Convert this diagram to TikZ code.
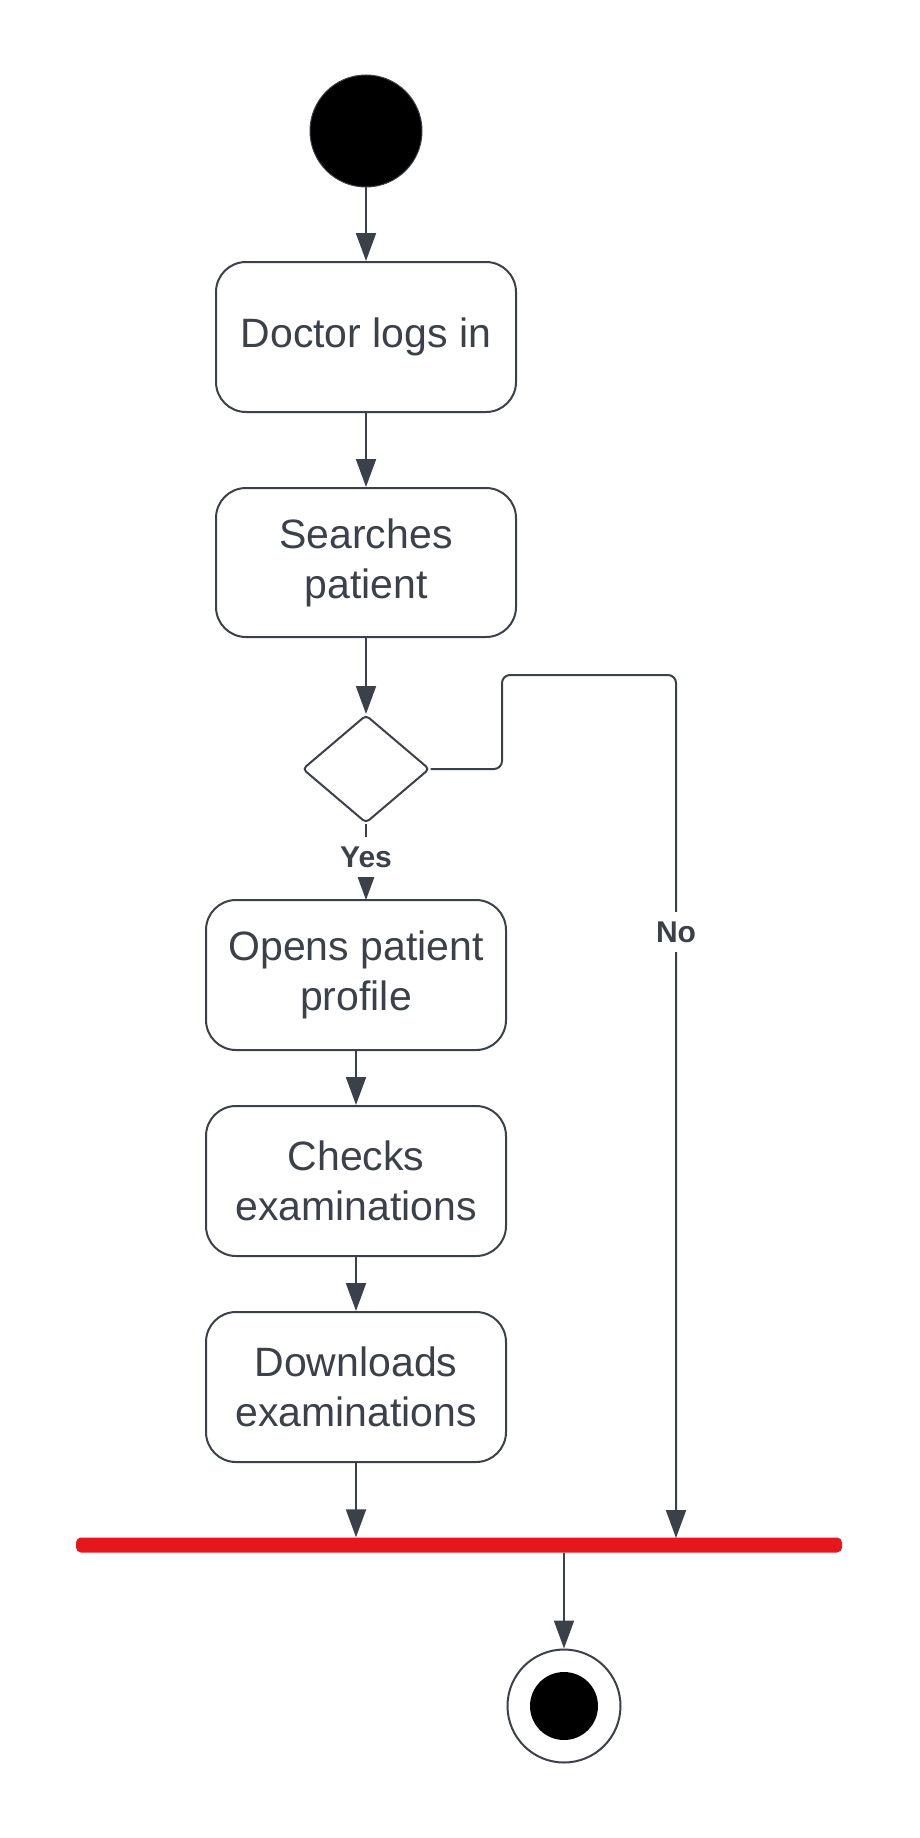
\documentclass[tikz,border=0pt]{standalone}
\usepackage{fontspec}
\setmainfont{Liberation Sans}
\usetikzlibrary{arrows.meta,shapes.geometric}
\definecolor{lucid}{HTML}{3A414A}
\definecolor{barred}{HTML}{E5171B}
\tikzset{
  actbox/.style={draw=lucid, line width=2pt, rounded corners=30pt, minimum width=300pt, minimum height=150pt, align=center, text=lucid, font=\fontsize{41}{50}\selectfont, inner sep=0pt, fill=white},
  conn/.style={draw=lucid, line width=2pt, -{Triangle[length=28pt,width=20pt]}},
  lbl/.style={fill=white, text=lucid, font=\fontsize{30}{36}\selectfont\bfseries, inner sep=0pt, minimum height=40pt, minimum width=40pt}
}
\begin{document}
\begin{tikzpicture}[x=1pt,y=-1pt]
\useasboundingbox (0,0) rectangle (919,1838);
\node[circle, fill=black, draw=lucid, line width=1pt, minimum size=112pt, inner sep=0pt] (start) at (366,131) {};
\node[actbox] (login) at (366,337) {Doctor logs in};
\node[actbox, minimum height=149pt] (search) at (366,562.5) {Searches\\patient};
\node[diamond, draw=lucid, line width=2pt, minimum width=127pt, minimum height=108pt, inner sep=0pt, rounded corners=4pt] (dec) at (366,769) {};
\node[actbox] (opens) at (356,975) {Opens patient\\profile};
\node[actbox] (checks) at (356,1181) {Checks\\examinations};
\node[actbox] (down) at (356,1387) {Downloads\\examinations};
\node[rectangle, fill=barred, minimum width=766pt, minimum height=15pt, inner sep=0pt, rounded corners=5pt] (bar) at (459,1545) {};
\node[circle, draw=lucid, line width=2pt, fill=white, minimum size=113pt, inner sep=0pt] (end) at (564,1706) {};
\node[circle, fill=black, minimum size=68pt, inner sep=0pt] (endin) at (end.center) {};
\coordinate (n1) at (502,769);
\coordinate (n2) at (502,675);
\coordinate (n3) at (676,675);
\coordinate (nb) at (676,1538);
\draw[conn] (start.south) -- (login.north);
\draw[conn] (login.south) -- (search.north);
\draw[conn] (search.south) -- (dec.north);
\draw[conn] (dec.south) -- (366,900);
\draw[conn] (opens.south) -- (checks.north);
\draw[conn] (checks.south) -- (down.north);
\draw[conn] (down.south) -- (down.south |- bar.north);
\draw[conn, rounded corners=8pt] (dec.east) -- (n1) -- (n2) -- (n3) -- (nb);
\draw[conn] (bar.south -| end.north) -- (end.north);
\node[lbl] (yes) at (366,857) {Yes};
\node[lbl] (no) at (676,932) {No};
\end{tikzpicture}
\end{document}
